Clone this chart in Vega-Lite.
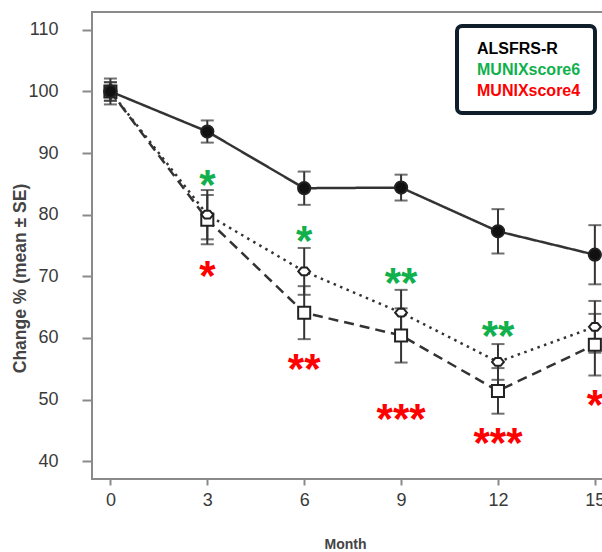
{
  "$schema": "https://vega.github.io/schema/vega-lite/v6.json",
  "width": 540,
  "height": 467,
  "autosize": {"type": "none"},
  "padding": {"left": 92, "top": 12, "right": 0, "bottom": 73},
  "background": "white",
  "config": {
    "view": {"stroke": "#8a8a8a", "strokeWidth": 2},
    "axis": {"domain": false, "grid": false, "tickColor": "#8a8a8a", "tickWidth": 2, "labelFont": "Liberation Sans", "labelColor": "#3a3a3a", "titleFont": "Liberation Sans", "titleColor": "#444444", "titleFontWeight": "bold"}
  },
  "datasets": {
    "stats": [
      {"series": "MUNIXscore4", "month": 0, "mean": 100, "se": 1.5},
      {"series": "MUNIXscore4", "month": 3, "mean": 79.2, "se": 4.0},
      {"series": "MUNIXscore4", "month": 6, "mean": 64.1, "se": 4.3},
      {"series": "MUNIXscore4", "month": 9, "mean": 60.4, "se": 4.4},
      {"series": "MUNIXscore4", "month": 12, "mean": 51.4, "se": 3.7},
      {"series": "MUNIXscore4", "month": 15, "mean": 58.9, "se": 5.0},
      {"series": "MUNIXscore6", "month": 0, "mean": 100, "se": 1.5},
      {"series": "MUNIXscore6", "month": 3, "mean": 80.0, "se": 4.0},
      {"series": "MUNIXscore6", "month": 6, "mean": 70.8, "se": 3.8},
      {"series": "MUNIXscore6", "month": 9, "mean": 64.1, "se": 3.7},
      {"series": "MUNIXscore6", "month": 12, "mean": 56.1, "se": 2.9},
      {"series": "MUNIXscore6", "month": 15, "mean": 61.8, "se": 4.2},
      {"series": "ALSFRS-R", "month": 0, "mean": 100, "se": 2.1},
      {"series": "ALSFRS-R", "month": 3, "mean": 93.5, "se": 1.8},
      {"series": "ALSFRS-R", "month": 6, "mean": 84.3, "se": 2.7},
      {"series": "ALSFRS-R", "month": 9, "mean": 84.4, "se": 2.1},
      {"series": "ALSFRS-R", "month": 12, "mean": 77.3, "se": 3.6},
      {"series": "ALSFRS-R", "month": 15, "mean": 73.5, "se": 4.8}
    ],
    "sig": [
      {"month": 3, "pos": 86.5, "label": "*", "sig": "MUNIXscore6"},
      {"month": 3, "pos": 71.7, "label": "*", "sig": "MUNIXscore4"},
      {"month": 6, "pos": 77.3, "label": "*", "sig": "MUNIXscore6"},
      {"month": 6, "pos": 56.6, "label": "**", "sig": "MUNIXscore4"},
      {"month": 9, "pos": 70.6, "label": "**", "sig": "MUNIXscore6"},
      {"month": 9, "pos": 48.4, "label": "***", "sig": "MUNIXscore4"},
      {"month": 12, "pos": 62.0, "label": "**", "sig": "MUNIXscore6"},
      {"month": 12, "pos": 44.6, "label": "***", "sig": "MUNIXscore4"},
      {"month": 15, "pos": 50.8, "label": "*", "sig": "MUNIXscore4"}
    ]
  },
  "layer": [
    {
      "data": {"name": "stats"},
      "mark": {"type": "line", "color": "#333333", "strokeWidth": 2.5},
      "encoding": {
        "x": {"field": "month", "type": "quantitative", "scale": {"domain": [-0.57, 16.15], "nice": false, "zero": false},
          "axis": {"values": [0, 3, 6, 9, 12, 15], "tickSize": 6, "labelFontSize": 18, "labelPadding": 6, "title": "Month", "titleFontSize": 14, "titleX": 253, "titleY": 58}},
        "y": {"field": "mean", "type": "quantitative", "scale": {"domain": [37.1, 112.9], "nice": false, "zero": false},
          "title": "Change % (mean ± SE)",
          "axis": {"values": [40, 50, 60, 70, 80, 90, 100, 110], "tickSize": 10, "labelFontSize": 18, "labelPadding": 24, "titleFontSize": 17.5, "titleX": -63, "titleY": 266}},
        "detail": {"field": "series"},
        "strokeDash": {"field": "series", "type": "nominal", "legend": null,
          "scale": {"domain": ["ALSFRS-R", "MUNIXscore4", "MUNIXscore6"], "range": [[1, 0], [10, 6], [2.5, 4.5]]}}
      }
    },
    {
      "data": {"name": "stats"},
      "mark": {"type": "errorbar", "ticks": true, "size": 13, "thickness": 2, "color": "#333333"},
      "encoding": {
        "x": {"field": "month", "type": "quantitative"},
        "y": {"field": "mean", "type": "quantitative", "title": "Change % (mean ± SE)"},
        "yError": {"field": "se"}
      }
    },
    {
      "data": {"name": "stats"},
      "mark": {"type": "point", "stroke": "#222222", "strokeWidth": 2, "opacity": 1},
      "encoding": {
        "x": {"field": "month", "type": "quantitative"},
        "y": {"field": "mean", "type": "quantitative", "title": "Change % (mean ± SE)"},
        "shape": {"field": "series", "type": "nominal", "legend": null,
          "scale": {"domain": ["ALSFRS-R", "MUNIXscore4", "MUNIXscore6"], "range": ["circle", "square", "M-1,0L-0.45,-0.65L0.45,-0.65L1,0L0.45,0.65L-0.45,0.65Z"]}},
        "fill": {"field": "series", "type": "nominal", "legend": null,
          "scale": {"domain": ["ALSFRS-R", "MUNIXscore4", "MUNIXscore6"], "range": ["#111111", "#ffffff", "#ffffff"]}},
        "size": {"field": "series", "type": "nominal", "legend": null,
          "scale": {"domain": ["ALSFRS-R", "MUNIXscore4", "MUNIXscore6"], "range": [150, 140, 300]}}
      }
    },
    {
      "data": {"name": "sig"},
      "mark": {"type": "text", "font": "Liberation Sans", "fontWeight": "bold", "fontSize": 42, "baseline": "alphabetic", "dy": 24, "align": "center"},
      "encoding": {
        "x": {"field": "month", "type": "quantitative"},
        "y": {"field": "pos", "type": "quantitative", "title": "Change % (mean ± SE)"},
        "text": {"field": "label"},
        "color": {"field": "sig", "type": "nominal",
          "scale": {"domain": ["ALSFRS-R", "MUNIXscore6", "MUNIXscore4"], "range": ["#000000", "#10b04c", "#ff0000"]},
          "legend": {"orient": "none", "legendX": 365, "legendY": 14, "title": null, "padding": 14,
            "fillColor": "#ffffff", "strokeColor": "#0f1e2a", "cornerRadius": 5,
            "symbolOpacity": 0, "symbolSize": 1, "labelOffset": -10, "rowPadding": 4,
            "labelFont": "Liberation Sans", "labelFontSize": 16, "labelFontWeight": "bold", "labelLimit": 300,
            "encode": {
              "legend": {"update": {"strokeWidth": {"value": 4}}},
              "labels": {"update": {"fill": {"scale": "color", "field": "value"}, "dy": {"value": 1}}}}}
        }
      }
    }
  ]
}
